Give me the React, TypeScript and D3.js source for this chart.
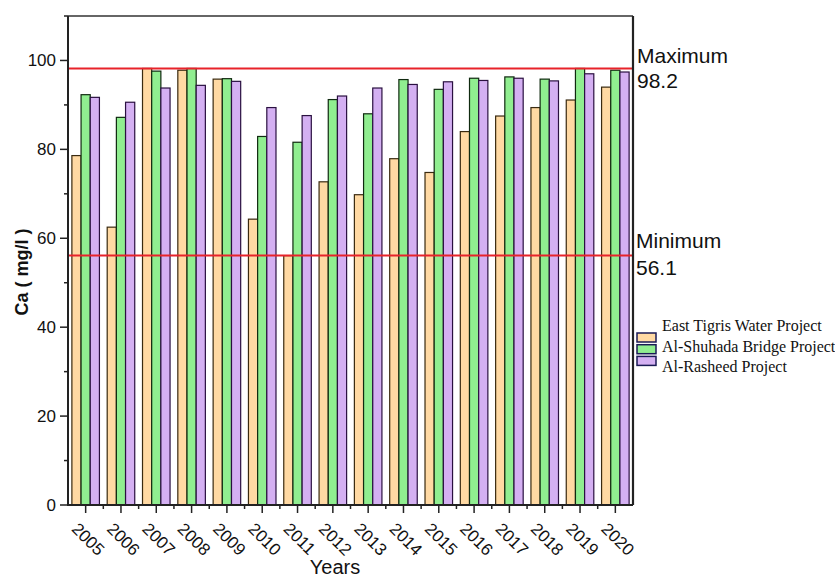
import React from "react";
import * as d3 from "d3";

const years = ["2005","2006","2007","2008","2009","2010","2011","2012","2013","2014","2015","2016","2017","2018","2019","2020"];
const eastTigris = [78.6, 62.5, 98.2, 97.8, 95.8, 64.3, 56.1, 72.7, 69.8, 77.9, 74.8, 84.0, 87.5, 89.4, 91.1, 94.0];
const alShuhada = [92.3, 87.2, 97.6, 98.2, 95.9, 82.9, 81.6, 91.2, 88.0, 95.7, 93.5, 96.0, 96.3, 95.8, 98.2, 97.8];
const alRasheed = [91.7, 90.6, 93.8, 94.4, 95.3, 89.4, 87.6, 92.0, 93.8, 94.6, 95.2, 95.5, 96.0, 95.4, 97.0, 97.4];
const seriesNames = ["East Tigris Water Project", "Al-Shuhada Bridge Project", "Al-Rasheed Project"];
const seriesColors = ["#FFD9A3", "#90EE90", "#D4B0F2"];
const seriesStrokes = ["#3a2a10", "#102a10", "#2a1040"];
const maxValue = 98.2;
const minValue = 56.1;
const yTicks = [0, 20, 40, 60, 80, 100];
const yMinorTicks = [10, 30, 50, 70, 90, 110];

export default function App() {
  const left = 68, right = 633, top = 16, bottom = 505;
  const x = d3.scaleBand<string>().domain(years).range([left, right]).paddingInner(0.22).paddingOuter(0.11);
  const xOuter = d3.scaleBand<string>().domain(years).range([left, right]);
  const sub = d3.scaleBand<number>().domain([0, 1, 2]).range([0, x.bandwidth()]);
  const y = d3.scaleLinear().domain([0, 110]).range([bottom, top]);
  const series = [eastTigris, alShuhada, alRasheed];
  const sans = "'Liberation Sans', Arial, sans-serif";
  const serif = "'Liberation Serif', 'Times New Roman', serif";

  return (
    <svg width={835} height={578} style={{ position: "absolute", left: 0, top: 0, background: "#fff" }}>
      {/* bars */}
      {series.map((vals, si) =>
        vals.map((v, i) => (
          <rect
            key={`${si}-${i}`}
            x={(x(years[i]) as number) + (sub(si) as number)}
            y={y(v)}
            width={sub.bandwidth()}
            height={bottom - y(v)}
            fill={seriesColors[si]}
            stroke={seriesStrokes[si]}
            strokeWidth={1.2}
          />
        ))
      )}
      {/* reference lines */}
      <line x1={left} x2={right} y1={y(maxValue)} y2={y(maxValue)} stroke="#E8232A" strokeWidth={2} />
      <line x1={left} x2={right} y1={y(minValue)} y2={y(minValue)} stroke="#E8232A" strokeWidth={2} />
      {/* frame */}
      <line x1={left} x2={right} y1={top} y2={top} stroke="#333" strokeWidth={1.5} />
      <line x1={right} x2={right} y1={top} y2={bottom} stroke="#222" strokeWidth={2.2} />
      <line x1={left} x2={left} y1={top} y2={bottom} stroke="#222" strokeWidth={2} />
      <line x1={left - 1} x2={right} y1={bottom} y2={bottom} stroke="#222" strokeWidth={2} />
      {/* y ticks */}
      {yTicks.map((t) => (
        <g key={t}>
          <line x1={left - 8} x2={left} y1={y(t)} y2={y(t)} stroke="#222" strokeWidth={1.5} />
          <text x={left - 12} y={y(t)} dy="0.35em" textAnchor="end" fontFamily={sans} fontSize={17} fill="#111">{t}</text>
        </g>
      ))}
      {yMinorTicks.map((t) => (
        <line key={t} x1={left - 4} x2={left} y1={y(t)} y2={y(t)} stroke="#222" strokeWidth={1.5} />
      ))}
      {/* x ticks */}
      {years.map((yr) => {
        const cx = (x(yr) as number) + x.bandwidth() / 2;
        return (
          <g key={yr}>
            <line x1={cx} x2={cx} y1={bottom} y2={bottom + 8} stroke="#222" strokeWidth={1.5} />
            <text
              transform={`translate(${cx - 15},${bottom + 25}) rotate(45)`}
              fontFamily={sans}
              fontSize={17}
              fill="#111"
            >{yr}</text>
          </g>
        );
      })}
      {years.slice(1).map((yr) => {
        const bx = xOuter(yr) as number;
        return <line key={"m" + yr} x1={bx} x2={bx} y1={bottom} y2={bottom + 4} stroke="#222" strokeWidth={1.5} />;
      })}
      {/* axis titles */}
      <text x={335} y={574} textAnchor="middle" fontFamily={sans} fontSize={20} fill="#111">Years</text>
      <text transform={`translate(28,272) rotate(-90)`} textAnchor="middle" fontFamily={sans} fontSize={18} fontWeight="bold" fill="#111">Ca ( mg/l )</text>
      {/* max/min annotations */}
      <text x={637} y={63} fontFamily={sans} fontSize={21} fill="#111">Maximum</text>
      <text x={637} y={88} fontFamily={sans} fontSize={21} fill="#111">{maxValue}</text>
      <text x={636} y={248} fontFamily={sans} fontSize={21} fill="#111">Minimum</text>
      <text x={636} y={275} fontFamily={sans} fontSize={21} fill="#111">{minValue}</text>
      {/* legend */}
      {seriesNames.map((name, i) => (
        <g key={name}>
          <rect x={637} y={333 + i * 11.7} width={19} height={9} fill={seriesColors[i]} stroke="#1a1a55" strokeWidth={1.5} />
          <text x={662} y={331 + i * 20.5} fontFamily={serif} fontSize={16} fill="#111">{name}</text>
        </g>
      ))}
    </svg>
  );
}
